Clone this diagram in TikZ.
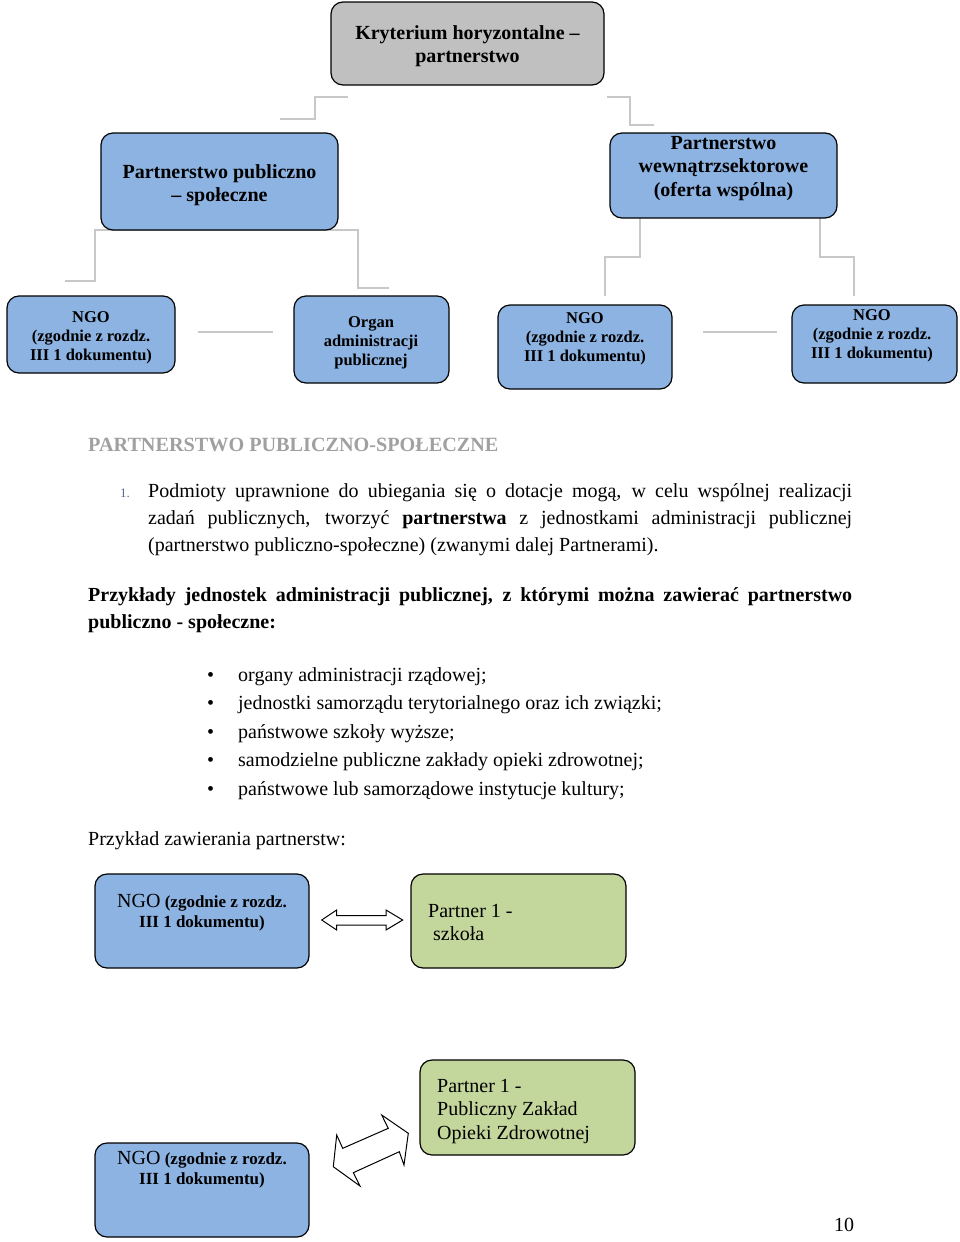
\documentclass[tikz,border=0pt]{standalone}
\usepackage{fontspec}
\setmainfont{Liberation Serif}
\definecolor{boxblue}{RGB}{141, 179, 226}
\definecolor{boxgrey}{RGB}{192, 192, 192}
\definecolor{boxgreen}{RGB}{195, 214, 155}
\definecolor{linegrey}{RGB}{200, 200, 200}
\definecolor{titlegrey}{RGB}{160, 160, 160}
\definecolor{numblue}{RGB}{90, 106, 140}

\begin{document}
\begin{tikzpicture}[x=1pt, y=-1pt,
  box/.style={draw=black, line width=1.2pt, rounded corners=12pt, inner sep=0pt},
  bigtext/.style={align=center, inner sep=0pt, font=\fontsize{20}{23.5}\selectfont\bfseries},
  boxtext/.style={align=center, inner sep=0pt, font=\fontsize{16.5}{19}\selectfont\bfseries},
  elbow/.style={draw=linegrey, line width=1.1pt},
  blockarrow/.style={draw=black, line width=1pt, fill=white},
  body/.style={anchor=base west, inner sep=0pt, font=\fontsize{20}{27}\selectfont}]
  \useasboundingbox (0,0) rectangle (960,1242);

  % grey elbow lines of the chart
  \draw[elbow] (348,97) -- (315,97) -- (315,119) -- (280,119);
  \draw[elbow] (607,97) -- (630,97) -- (630,125) -- (654,125);
  \draw[elbow] (65,281) -- (95,281) -- (95,230) -- (358,230) -- (358,288) -- (389,288);
  \draw[elbow] (640,218) -- (640,257) -- (605,257) -- (605,296);
  \draw[elbow] (820,218) -- (820,257) -- (854,257) -- (854,296);
  \draw[elbow] (198,332) -- (273,332);
  \draw[elbow] (703,332) -- (777,332);

  % Kryterium
  \node[box, fill=boxgrey, minimum width=273pt, minimum height=83pt] (krit) at (467.5,43.5) {};
  \node[bigtext] (krit-t) at (467.5,46) {Kryterium horyzontalne --\\partnerstwo};

  % second level
  \node[box, fill=boxblue, minimum width=237pt, minimum height=97pt] (pps) at (219.5,181.5) {};
  \node[bigtext] (pps-t) at (219.5,185) {Partnerstwo publiczno\\-- społeczne};
  \node[box, fill=boxblue, minimum width=227pt, minimum height=85pt] (pws) at (723.5,175.5) {};
  \node[bigtext] (pws-t) at (723.5,168.5) {Partnerstwo\\wewnątrzsektorowe\\(oferta wspólna)};

  % third level
  \node[box, fill=boxblue, minimum width=168pt, minimum height=77pt] (ngoa) at (91,334.5) {};
  \node[boxtext] (ngoa-t) at (91,338) {NGO\\(zgodnie z rozdz.\\III 1 dokumentu)};
  \node[box, fill=boxblue, minimum width=155pt, minimum height=87pt] (organ) at (371.5,339.5) {};
  \node[boxtext] (organ-t) at (371,343) {Organ\\administracji\\publicznej};
  \node[box, fill=boxblue, minimum width=174pt, minimum height=84pt] (ngob) at (585,347) {};
  \node[boxtext] (ngob-t) at (585,339) {NGO\\(zgodnie z rozdz.\\III 1 dokumentu)};
  \node[box, fill=boxblue, minimum width=165pt, minimum height=78pt] (ngoc) at (874.5,344) {};
  \node[boxtext] (ngoc-t) at (872,336) {NGO\\(zgodnie z rozdz.\\III 1 dokumentu)};

  % text of the page
  \node[body, font=\fontsize{20.2}{27}\selectfont\bfseries, text=titlegrey] (title) at (88,451.5) {PARTNERSTWO PUBLICZNO-SPOŁECZNE};
  \node[body, font=\fontsize{13}{16}\selectfont, text=numblue] (num) at (120,497) {1.};
  \node[body, text width=704pt, align=justify] (para) at (148,497) {Podmioty uprawnione do ubiegania się o dotacje mogą, w celu wspólnej realizacji\linebreak
    zadań publicznych, tworzyć \textbf{partnerstwa} z jednostkami administracji publicznej\linebreak
    (partnerstwo publiczno-społeczne) (zwanymi dalej Partnerami).};
  \node[body, text width=764pt, align=justify, font=\fontsize{20}{27}\selectfont\bfseries] (examples) at (88,601) {Przykłady jednostek administracji publicznej, z którymi można zawierać partnerstwo\linebreak
    publiczno - społeczne:};
  \node[body, align=left, font=\fontsize{20}{28.5}\selectfont] (items) at (207,795) {
    \makebox[31pt][l]{\textbullet}organy administracji rządowej;\\
    \makebox[31pt][l]{\textbullet}jednostki samorządu terytorialnego oraz ich związki;\\
    \makebox[31pt][l]{\textbullet}państwowe szkoły wyższe;\\
    \makebox[31pt][l]{\textbullet}samodzielne publiczne zakłady opieki zdrowotnej;\\
    \makebox[31pt][l]{\textbullet}państwowe lub samorządowe instytucje kultury;};
  \node[body] (example) at (88,845) {Przykład zawierania partnerstw:};

  % first example
  \node[box, fill=boxblue, minimum width=214pt, minimum height=94pt] (ngox) at (202,921) {};
  \node[align=center, inner sep=0pt, font=\fontsize{17}{20}\selectfont\bfseries] (ngox-t) at (202,913) {{\mdseries\fontsize{20}{20}\selectfont NGO} (zgodnie z rozdz.\\III 1 dokumentu)};
  \node[box, fill=boxgreen, minimum width=215pt, minimum height=94pt] (szkola) at (518.5,921) {};
  \node[body, align=left, font=\fontsize{20}{23}\selectfont] (szkola-t) at (428,940) {Partner 1 -\\\hspace*{5pt}szkoła};
  \draw[blockarrow] (321.7,920) -- (336.7,910) -- (336.7,915.5) -- (386,915.5) -- (386,910) -- (402.7,920)
    -- (386,930) -- (386,925) -- (336.7,925) -- (336.7,930) -- cycle;

  % second example
  \node[box, fill=boxgreen, minimum width=215pt, minimum height=95pt] (pzoz) at (527.5,1107.5) {};
  \node[body, align=left, font=\fontsize{20}{23.5}\selectfont] (pzoz-t) at (437,1139) {Partner 1 -\\Publiczny Zakład\\Opieki Zdrowotnej};
  \node[box, fill=boxblue, minimum width=214pt, minimum height=94pt] (ngoy) at (202,1190) {};
  \node[align=center, inner sep=0pt, font=\fontsize{17}{20}\selectfont\bfseries] (ngoy-t) at (202,1170) {{\mdseries\fontsize{20}{20}\selectfont NGO} (zgodnie z rozdz.\\III 1 dokumentu)};
  \draw[blockarrow] (333.3,1166.7) -- (336.7,1135) -- (342.7,1148.3) -- (388.3,1128.3) -- (381.7,1115)
    -- (408.3,1133.3) -- (404,1165) -- (399.3,1151.7) -- (353.3,1172.7) -- (360,1186) -- cycle;

  \node[body] (page) at (834,1231) {10};
\end{tikzpicture}
\end{document}
